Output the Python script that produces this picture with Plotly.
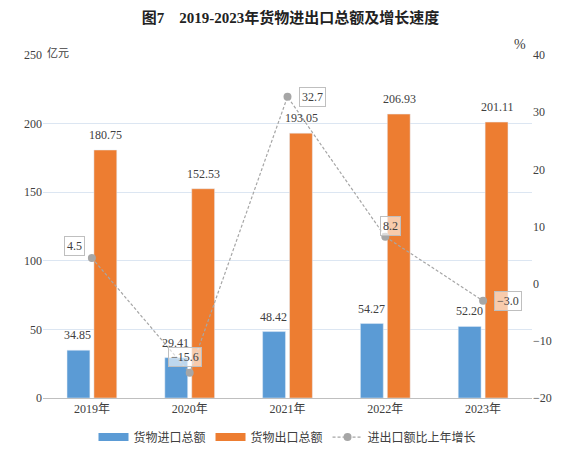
import plotly.graph_objects as go

years = ["2019年", "2020年", "2021年", "2022年", "2023年"]
imports = [34.85, 29.41, 48.42, 54.27, 52.20]
exports = [180.75, 152.53, 193.05, 206.93, 201.11]
growth = [4.5, -15.6, 32.7, 8.2, -3.0]
growth_labels = ["4.5", "−15.6", "32.7", "8.2", "−3.0"]
label_shift = [(-17, 12), (-5, 16), (25, 0), (5, 11), (25, 0)]

FONT = "Liberation Serif, Noto Sans CJK SC, serif"
TXT = "#404040"
BLUE, ORANGE, GRAY = "#5B9BD5", "#ED7D31", "#A6A6A6"

fig = go.Figure()
fig.add_trace(go.Bar(x=years, y=imports, name="货物进口总额", marker_color=BLUE,
                     showlegend=False))
fig.add_trace(go.Bar(x=years, y=exports, name="货物出口总额", marker_color=ORANGE,
                     showlegend=False))
# legend-only entries with wide rectangular swatches
fig.add_trace(go.Scatter(x=[None], y=[None], mode="lines", name="货物进口总额",
                         line=dict(color=BLUE, width=8)))
fig.add_trace(go.Scatter(x=[None], y=[None], mode="lines", name="货物出口总额",
                         line=dict(color=ORANGE, width=8)))
fig.add_trace(go.Scatter(
    x=years, y=growth, name="进出口额比上年增长", yaxis="y2",
    mode="lines+markers", line=dict(color=GRAY, width=1.2, dash="3px,2px"),
    marker=dict(color=GRAY, size=8), cliponaxis=False))

# bar value labels
for vals, dx in ((imports, -14), (exports, 14)):
    for yr, v in zip(years, vals):
        fig.add_annotation(x=yr, y=v, text=f"{v:.2f}", showarrow=False,
                           xshift=dx, yshift=15,
                           font=dict(size=12, color=TXT, family=FONT))

for yr, g, lab, (dx, dy) in zip(years, growth, growth_labels, label_shift):
    fig.add_annotation(x=yr, y=g, yref="y2", text=lab, showarrow=False,
                       xshift=dx, yshift=dy, bgcolor="rgba(255,255,255,0.6)",
                       bordercolor="#BFBFBF", borderwidth=1, borderpad=2,
                       font=dict(size=12, color=TXT, family=FONT))

fig.add_annotation(x=0, y=1, xref="paper", yref="paper", text="亿元",
                   showarrow=False, xanchor="left", yanchor="bottom", xshift=2,
                   yshift=-6, font=dict(size=11, color=TXT, family=FONT))
fig.add_annotation(x=1, y=1, xref="paper", yref="paper", text="%",
                   showarrow=False, xanchor="right", yanchor="bottom", xshift=-4,
                   yshift=1, font=dict(size=14, color=TXT, family=FONT))

fig.update_layout(
    width=565, height=458,
    margin=dict(l=35, r=41, t=47, b=68, autoexpand=False),
    paper_bgcolor="white", plot_bgcolor="white",
    title=dict(text="<b>图7　2019-2023年货物进出口总额及增长速度</b>",
               x=0.5, xanchor="center", y=0.978, yanchor="middle",
               font=dict(size=15, color="#222222", family=FONT)),
    font=dict(family=FONT, size=11, color=TXT),
    barmode="group", bargap=0.45, bargroupgap=0.15,
    xaxis=dict(showline=True, linecolor="#BFBFBF", linewidth=1, ticks="",
               automargin=False, tickfont=dict(size=12, color=TXT)),
    yaxis=dict(range=[0, 250], dtick=50, showgrid=True, gridcolor="#DCE6F2",
               automargin=False,
               zeroline=False, tickfont=dict(size=12, color=TXT), ticks=""),
    yaxis2=dict(range=[-20, 40], dtick=10, overlaying="y", side="right",
                automargin=False,
                showgrid=False, zeroline=False, tickfont=dict(size=12, color=TXT),
                ticks=""),
    legend=dict(orientation="h", x=0.5, xanchor="center", y=-0.114, yanchor="middle",
                font=dict(size=12, color=TXT, family=FONT), itemwidth=30),
    showlegend=True,
)

fig.write_html("out.html")
